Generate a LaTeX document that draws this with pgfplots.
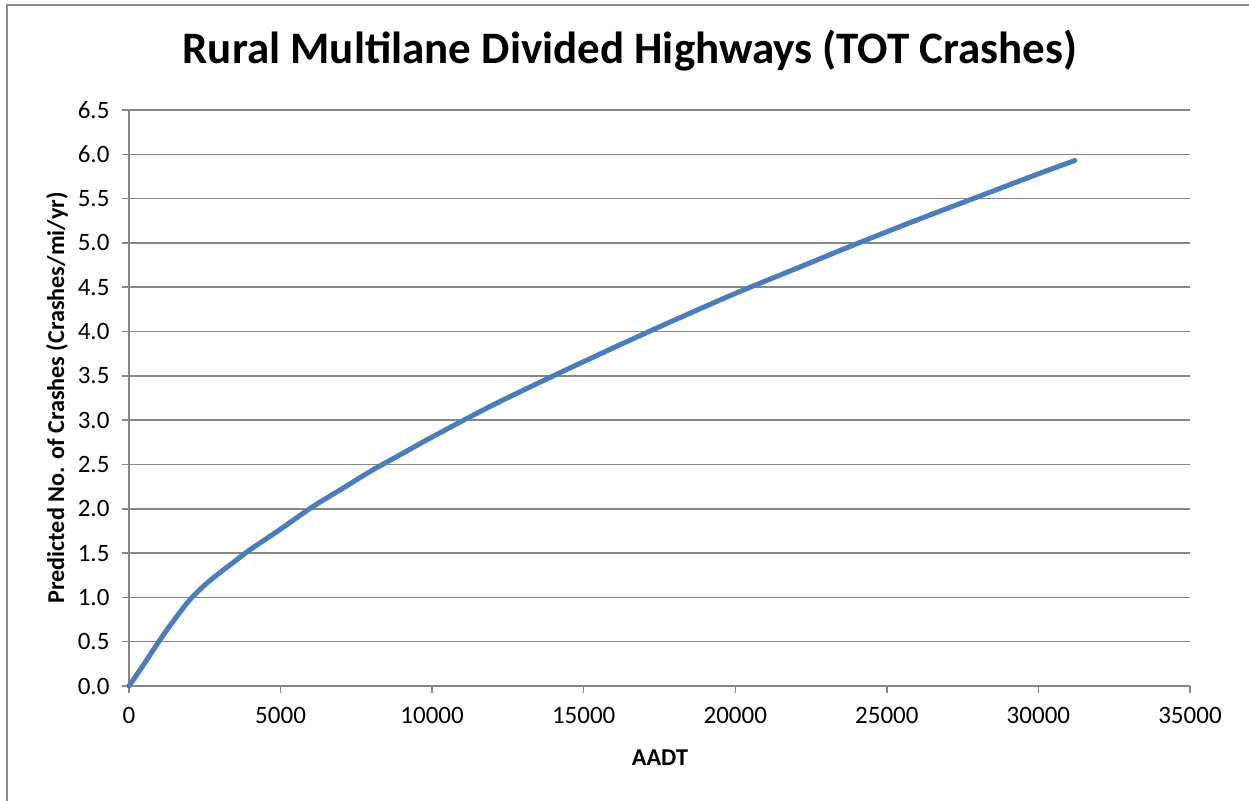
\documentclass[border=0pt]{standalone}
\usepackage{fontspec}
\setmainfont{Carlito}
\usepackage{pgfplots}
\pgfplotsset{compat=1.18}
\definecolor{excelblue}{HTML}{4A7EBB}
\definecolor{gridgray}{HTML}{868686}
\definecolor{framegray}{HTML}{8C8C8C}

\begin{document}
\begin{tikzpicture}[x=0.6pt,y=0.6pt]
\useasboundingbox (0,0) rectangle (1249,801);
% chart area frame (left and top edges visible)
\draw[framegray,line width=1.1pt] (7,0) -- (7,796) -- (1249,796);
\node[font=\fontsize{27}{31}\selectfont\bfseries] at (630,750) {Rural Multilane Divided Highways (TOT Crashes)};
\node[font=\fontsize{14.5}{17}\selectfont\bfseries,rotate=90] at (57,403) {Predicted No. of Crashes (Crashes/mi/yr)};
\node[font=\fontsize{14.5}{17}\selectfont\bfseries] at (660,43) {AADT};
\begin{axis}[
  at={(77.4pt,69pt)},anchor=south west,
  scale only axis,width=636.6pt,height=345.6pt,
  xmin=0,xmax=35000,ymin=0,ymax=6.5,
  xtick={0,5000,...,35000},ytick={0,0.5,...,6.5},
  axis x line*=bottom,axis y line*=left,
  axis line style={gridgray,line width=0.9pt,-},
  ymajorgrids,grid style={gridgray,line width=0.9pt},
  tick align=outside,major tick length=4.2pt,
  tick style={gridgray,line width=0.9pt},
  scaled x ticks=false,
  xticklabel style={yshift=-5pt,/pgf/number format/1000 sep={}},
  yticklabel style={xshift=-4pt,/pgf/number format/.cd,fixed,fixed zerofill,precision=1},
  /pgf/number format/assume math mode=true,
  tick label style={font=\fontsize{15}{17}\selectfont},
  clip=false]
\addplot[excelblue,line width=3pt,line cap=round,smooth] coordinates{
(0,0)(500,0.25)(1000,0.51)(1500,0.75)(2000,0.97)(2500,1.14)(3000,1.28)
(3500,1.41)(4000,1.54)(5000,1.77)(6000,2.01)(7000,2.22)(8000,2.43)
(9000,2.62)(10000,2.81)(12000,3.17)(14000,3.50)(16000,3.82)(18000,4.13)
(20000,4.43)(22000,4.71)(24000,4.99)(26000,5.26)(28000,5.52)(30000,5.78)
(31200,5.93)};
\end{axis}
\end{tikzpicture}
\end{document}
